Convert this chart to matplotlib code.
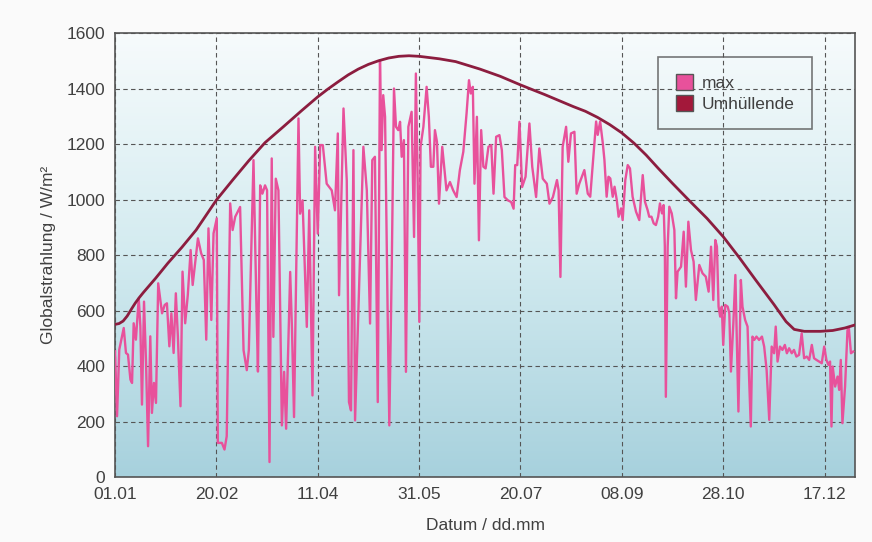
import matplotlib
matplotlib.use("Agg")
import matplotlib.pyplot as plt
import numpy as np
from matplotlib.colors import LinearSegmentedColormap
from matplotlib.patches import Patch

# day of year (0 = 01.01) and daily maximum of global radiation in W/m^2
max_days = [
    0, 1, 2.1, 4.3, 5.4, 6.4, 7.6, 8.4, 9.2, 10.3, 11.7, 12.5, 13.3, 14.3, 15.3,
    16.3, 17.4, 18.2, 19.2, 20.2, 21.3, 23.2, 24.5, 25.6, 26.8, 27.8, 28.9, 30.0,
    31.0, 32.3, 33.3, 34.6, 35.9, 37.3, 38.3, 40.9, 42.5, 43.8, 45.0, 46.1, 47.5,
    48.6, 50.2, 50.7, 52.7, 54.0, 55.1, 56.8, 58.0, 59.3, 61.7, 63.4, 65.0, 66.0,
    68.3, 69.8, 70.5, 71.6, 72.7, 74.0, 75.0, 76.2, 77.3, 78.1, 79.3, 80.6, 82.3,
    83.4, 84.4, 86.4, 87.3, 88.3, 90.5, 91.3, 92.5, 94.6, 95.8, 97.4, 98.7, 100.0,
    101.2, 102.5, 104.4, 106.9, 108.5, 109.9, 110.5, 112.7, 114.3, 115.4, 116.4,
    117.6, 118.4, 122.5, 124.2, 125.8, 126.9, 128.2, 129.6, 130.7, 131.5, 132.3,
    133.2, 134.5, 135.3, 136.5, 137.6, 138.6, 139.7, 140.6, 141.4, 142.5, 143.5,
    144.7, 146.3, 147.5, 148.4, 149.3, 150.1, 150.7, 152.1, 153.7, 154.8, 155.8,
    157.0, 157.8, 158.8, 159.8, 161.4, 163.5, 165.2, 166.8, 168.5, 170.1, 171.8,
    173.4, 174.6, 175.5, 176.5, 177.3, 178.5, 179.5, 180.6, 181.7, 182.8, 184.2,
    185.6, 186.7, 188.0, 189.6, 190.8, 192.1, 193.8, 195.4, 196.6, 197.4, 198.4,
    199.5, 200.8, 202.5, 204.4, 205.8, 207.7, 209.3, 211.0, 213.0, 214.3, 216.0,
    218.0, 218.8, 219.7, 220.8, 222.5, 223.6, 224.9, 226.6, 227.7, 229.0, 231.5,
    233.2, 234.4, 235.3, 236.5, 237.3, 238.1, 239.3, 240.6, 241.4, 242.5, 243.4,
    244.3, 245.5, 246.4, 247.5, 248.4, 249.6, 250.4, 251.7, 252.9, 254.0, 255.3,
    257.0, 258.6, 260.3, 261.4, 262.7, 263.5, 264.6, 265.7, 266.8, 267.9, 268.8,
    269.8, 270.6, 271.2, 271.7, 272.6, 273.4, 274.6, 275.9, 276.7, 277.5, 279.2,
    280.5, 281.6, 282.8, 284.1, 285.4, 286.5, 288.2, 289.8, 291.4, 292.8, 294.0,
    295.1, 296.1, 296.9, 297.7, 298.5, 299.3, 300.0, 301.0, 302.2, 303.0, 303.8,
    305.0, 306.0, 307.5, 308.7, 309.5, 310.8, 312.0, 312.8, 313.6, 314.4, 315.3,
    316.4, 317.7, 319.1, 320.2, 321.4, 322.7, 323.9, 325.1, 325.9, 326.8, 328.0,
    329.2, 330.4, 331.4, 332.5, 333.8, 334.9, 336.1, 337.4, 338.7, 339.9, 341.2,
    342.4, 343.7, 344.8, 346.0, 347.3, 348.6, 349.8, 350.9, 351.9, 352.7, 353.4,
    354.0, 355.2, 356.4, 357.2, 358.0, 358.8, 360.1, 361.3, 362.0, 363.0, 364.1,
]
max_values = [
    453, 219, 459, 537, 447, 441, 351, 339, 554, 495, 644, 543, 261, 632, 411,
    111, 507, 231, 339, 267, 698, 590, 620, 626, 471, 590, 447, 662,
    507, 255, 740, 554, 656, 818, 692, 860, 806, 782, 495, 896, 566,
    878, 932, 123, 123, 99, 147, 986, 890, 938, 973, 457, 385, 457,
    1142, 600, 380, 1051, 1021, 1051, 1033, 54, 1148, 505, 1075, 1033, 186,
    379, 174, 739, 529, 216, 1292, 949, 997, 541, 961, 294, 1190, 877,
    1196, 1196, 1057, 1033, 961, 1238, 655, 1328, 1070, 270, 240,
    1178, 204, 1190, 1033, 553, 1142, 1154, 270, 1502, 1178, 1376,
    1298, 577, 186, 757, 1400, 1262, 1250, 1280, 1154, 1214, 379,
    1262, 1316, 865, 1454, 1057, 559, 1190, 1262, 1406, 1298, 1118,
    1118, 1250, 1208, 985, 1190, 1033, 1063, 1033, 1009, 1106, 1172,
    1310, 1430, 1382, 1406, 1057, 1298, 853, 1250, 1118, 1112, 1190,
    1196, 1021, 1226, 1232, 1178, 1009, 997, 991, 967, 1124, 1124,
    1280, 1045, 1082, 1274, 1118, 1009, 1184, 1075, 1057, 985, 1009,
    1070, 1033, 721, 1190, 1262, 1136, 1238, 1244, 1021, 1057, 1106,
    1021, 1010, 1094, 1203, 1281, 1233, 1281, 1203, 1143, 1010, 1082,
    1076, 1010, 1046, 998, 938, 968, 926, 1070, 1124, 1112, 1010,
    956, 926, 1088, 992, 962, 938, 938, 914, 908, 938, 986,
    950, 980, 830, 289, 830, 974, 950, 890, 644, 740, 758,
    884, 686, 920, 818, 776, 638, 764, 734, 722, 668, 830,
    638, 854, 830, 614, 578, 614, 476, 620, 614, 590, 380,
    554, 728, 236, 710, 614, 566, 542, 350, 182, 506, 494,
    506, 494, 506, 470, 386, 206, 470, 446, 542, 416, 470,
    458, 476, 446, 464, 446, 458, 434, 440, 518, 428, 434,
    422, 476, 428, 422, 416, 410, 470, 422, 404, 416, 182,
    398, 326, 362, 314, 422, 194, 326, 530, 536, 446, 452,
]

# envelope (Umhuellende)
env_days = [
    0, 2, 4, 6, 8, 10, 12, 14, 20, 26, 33, 40, 50, 58, 66, 74, 83, 92, 100, 105,
    110, 115, 120, 125, 130, 135, 140, 145, 150, 160, 168, 180, 190, 200, 212,
    226, 232, 238, 244, 250, 256, 262, 268, 275, 283, 292, 300, 308, 316, 325,
    331, 335, 340, 348, 354, 360, 365,
]
env_values = [
    550, 553, 562, 580, 604, 627, 647, 665, 716, 770, 828, 890, 998, 1070,
    1140, 1205, 1262, 1320, 1370, 1398, 1424, 1449, 1470, 1487, 1500, 1510,
    1516, 1518, 1516, 1507, 1497, 1470, 1444, 1413, 1378, 1335, 1318, 1296,
    1270, 1240, 1203, 1160, 1112, 1058, 998, 932, 866, 790, 710, 622, 560,
    532, 525, 525, 528, 537, 548,
]

tick_days = [0, 50, 100, 150, 200, 250, 300, 350]
tick_labels = ["01.01", "20.02", "11.04", "31.05", "20.07", "08.09", "28.10", "17.12"]
y_ticks = [0, 200, 400, 600, 800, 1000, 1200, 1400, 1600]

PINK = "#e8519b"
DARKRED = "#8c1d3f"
TEXT = "#404040"

plt.rcParams["font.family"] = ["Liberation Sans", "DejaVu Sans"]

fig = plt.figure(figsize=(8.72, 5.42), dpi=100, facecolor="#fafafa")
ax = fig.add_axes([0.1319, 0.1199, 0.8486, 0.8192])

# background gradient: white at top, light blue at bottom
grad = LinearSegmentedColormap.from_list("bg", ["#a7d1dd", "#d3ebf0", "#f7fbfc"])
ax.imshow(np.linspace(0, 1, 256).reshape(-1, 1), cmap=grad, origin="lower",
          extent=[0, 1, 0, 1], transform=ax.transAxes, aspect="auto", zorder=0)

ax.plot(max_days, max_values, color=PINK, linewidth=1.7, zorder=3)
ax.plot(env_days, env_values, color=DARKRED, linewidth=2.0, zorder=4)

ax.set_xlim(0, 365)
ax.set_ylim(0, 1600)
ax.set_xticks(tick_days)
ax.set_xticklabels(tick_labels)
ax.set_yticks(y_ticks)
ax.tick_params(length=0, pad=7, labelsize=12.5, colors=TEXT)
ax.grid(True, color="#555555", linestyle=(0, (4, 3)), linewidth=0.8, zorder=1)
ax.set_axisbelow(True)
for sp in ax.spines.values():
    sp.set_color("#555555")
    sp.set_linewidth(1.2)

ax.set_xlabel("Datum / dd.mm", fontsize=12.5, color=TEXT, labelpad=12)
ax.set_ylabel("Globalstrahlung / W/m²", fontsize=12.5, color=TEXT, labelpad=8)

handles = [Patch(facecolor=PINK, edgecolor="#555555", label="max"),
           Patch(facecolor="#a3183a", edgecolor="#555555", label="Umhüllende")]
leg = ax.legend(handles=handles, loc="upper right", bbox_to_anchor=(0.942, 0.946),
                fontsize=12.5, frameon=True, fancybox=False, borderpad=1.0,
                handlelength=1.0, handleheight=1.0, handletextpad=0.5,
                labelspacing=0.25, borderaxespad=0)
leg.get_frame().set_edgecolor("#555555")
leg.get_frame().set_facecolor("none")
leg.get_frame().set_linewidth(1.2)
for t in leg.get_texts():
    t.set_color(TEXT)

fig.savefig("out.png", dpi=100, facecolor=fig.get_facecolor())
